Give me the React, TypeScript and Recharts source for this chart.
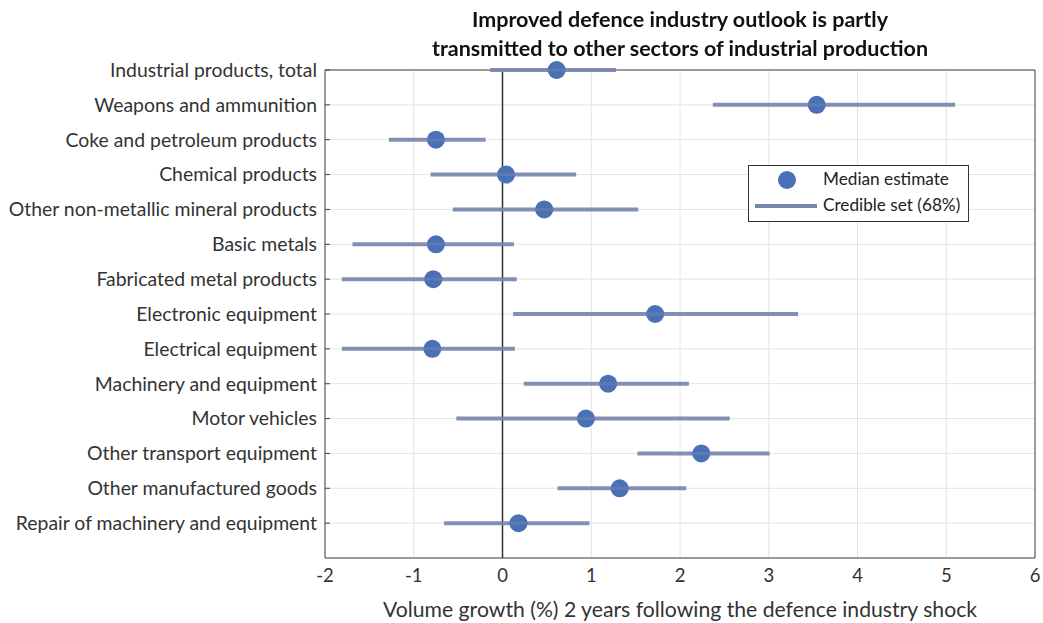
import React from "react";
import {
  ComposedChart,
  Scatter,
  ErrorBar,
  XAxis,
  YAxis,
  CartesianGrid,
  ReferenceLine,
  Legend,
} from "recharts";

// Sectors, top to bottom, with median estimate and 68% credible set bounds
const sectors = [
  "Industrial products, total",
  "Weapons and ammunition",
  "Coke and petroleum products",
  "Chemical products",
  "Other non-metallic mineral products",
  "Basic metals",
  "Fabricated metal products",
  "Electronic equipment",
  "Electrical equipment",
  "Machinery and equipment",
  "Motor vehicles",
  "Other transport equipment",
  "Other manufactured goods",
  "Repair of machinery and equipment",
];
const median = [0.61, 3.54, -0.75, 0.04, 0.47, -0.75, -0.78, 1.72, -0.79, 1.19, 0.94, 2.24, 1.32, 0.18];
const lower = [-0.14, 2.37, -1.28, -0.81, -0.56, -1.69, -1.81, 0.12, -1.81, 0.24, -0.52, 1.52, 0.62, -0.66];
const upper = [1.28, 5.1, -0.19, 0.83, 1.53, 0.13, 0.16, 3.33, 0.14, 2.1, 2.56, 3.01, 2.07, 0.98];
const xTicks = [-2, -1, 0, 1, 2, 3, 4, 5, 6];

const DOT = "#4A71B6";
const BAR = "#7886AE";
const FONT = "Lato, sans-serif";

const rowTicks = sectors.map((_, i) => i);
const data = sectors.map((name, i) => ({
  name,
  row: i,
  med: median[i],
  err: [median[i] - lower[i], upper[i] - median[i]],
}));

// marker: filled dot with the range line faintly showing through (as in the original)
const Dot = (p: any) => (
  <g>
    <circle cx={p.cx} cy={p.cy} r={9} fill={DOT} />
    <line x1={p.cx - 9} x2={p.cx + 9} y1={p.cy} y2={p.cy} stroke={BAR} strokeWidth={3} strokeOpacity={0.45} />
  </g>
);
const Nothing = () => <g />;

// category label plus a short inward tick mark on the box edge
const RowTick = (p: any) => (
  <g>
    <line x1={p.x + 8} x2={p.x + 13} y1={p.y} y2={p.y} stroke="#444" />
    <text x={p.x} y={p.y} dy="0.35em" textAnchor="end" fontSize={19.4} fill="#333" fontFamily={FONT}>
      {sectors[p.payload.value] ?? ""}
    </text>
  </g>
);

const LegendBox = () => (
  <svg width={221} height={57} style={{ display: "block" }}>
    <rect x={0.5} y={0.5} width={220} height={56} fill="#fff" stroke="#333" />
    <circle cx={39} cy={15} r={9} fill={DOT} />
    <line x1={7} x2={69} y1={41} y2={41} stroke={BAR} strokeWidth={4} />
    <text x={75} y={20} fontSize={17.2} fill="#222" fontFamily={FONT}>
      Median estimate
    </text>
    <text x={75} y={46} fontSize={17.2} fill="#222" fontFamily={FONT}>
      Credible set (68%)
    </text>
  </svg>
);

export default function App() {
  return (
    <div style={{ position: "fixed", left: 0, top: 0, width: 1043, height: 623, background: "#fff" }}>
      <div
        style={{
          position: "absolute",
          left: 280,
          width: 800,
          top: 5,
          textAlign: "center",
          fontFamily: FONT,
          fontWeight: 700,
          fontSize: 21.5,
          lineHeight: "29px",
          color: "#111",
          zIndex: 2,
        }}
      >
        Improved defence industry outlook is partly
        <br />
        transmitted to other sectors of industrial production
      </div>
      <ComposedChart
        width={1043}
        height={623}
        data={data}
        margin={{ top: 70, right: 8, bottom: 0, left: 0 }}
      >
        <CartesianGrid xAxisId="b" yAxisId="l" stroke="#e4e4e4" strokeWidth={1} />
        <XAxis
          xAxisId="b"
          type="number"
          dataKey="med"
          domain={[-2, 6]}
          ticks={xTicks}
          allowDataOverflow
          height={65}
          stroke="#444"
          tickLine={false}
          tickSize={0}
          tickMargin={11}
          tick={{ fontSize: 18.5, fill: "#333", fontFamily: FONT }}
          label={{
            value: "Volume growth (%) 2 years following the defence industry shock",
            position: "insideBottom",
            offset: 6,
            style: { fontSize: 21.2, fill: "#333", fontFamily: FONT },
          }}
        />
        <YAxis
          yAxisId="l"
          type="number"
          dataKey="row"
          domain={[0, 14]}
          ticks={rowTicks}
          interval={0}
          reversed
          width={325}
          stroke="#444"
          tickLine={false}
          tickSize={0}
          tickMargin={8}
          tick={RowTick}
        />
        {/* box outline: top and right edges */}
        <ReferenceLine xAxisId="b" yAxisId="l" y={0} stroke="#444" />
        <ReferenceLine xAxisId="b" yAxisId="l" x={6} stroke="#444" />
        <ReferenceLine xAxisId="b" yAxisId="l" x={0} stroke="#333" strokeWidth={1.5} />
        <Scatter
          xAxisId="b"
          yAxisId="l"
          dataKey="med"
          shape={Dot}
          isAnimationActive={false}
          legendType="none"
        />
        <Scatter
          xAxisId="b"
          yAxisId="l"
          dataKey="med"
          shape={Nothing}
          isAnimationActive={false}
          legendType="none"
        >
          <ErrorBar
            dataKey="err"
            direction="x"
            width={0}
            stroke={BAR}
            strokeWidth={4}
            strokeOpacity={0.92}
            isAnimationActive={false}
          />
        </Scatter>
        <Legend
          layout="horizontal"
          verticalAlign="middle"
          align="center"
          content={LegendBox}
          wrapperStyle={{ position: "absolute", left: 748, top: 165, width: 221, height: 57 }}
        />
      </ComposedChart>
    </div>
  );
}
